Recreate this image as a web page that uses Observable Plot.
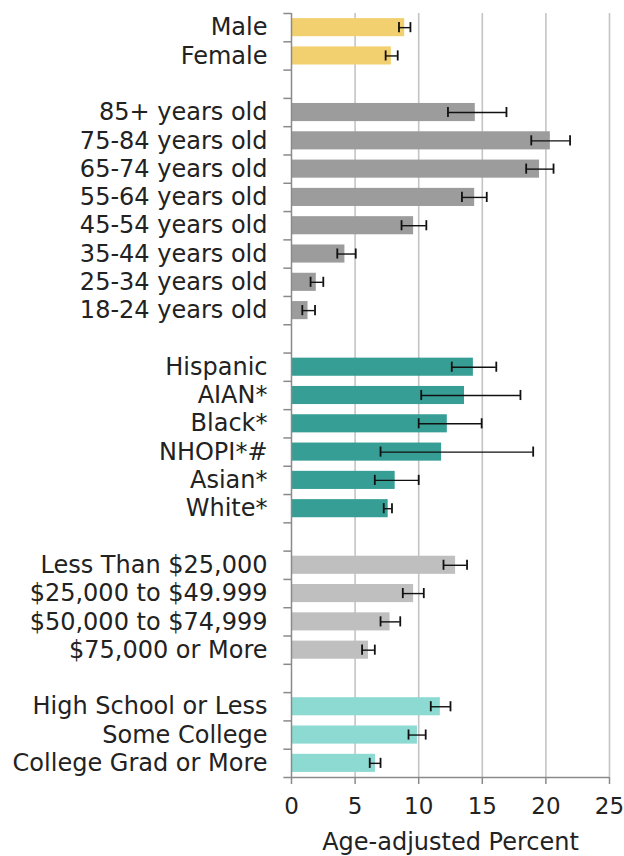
<!DOCTYPE html>
<html><head><meta charset="utf-8">
<script src="https://cdn.jsdelivr.net/npm/d3@7"></script>
<script src="https://cdn.jsdelivr.net/npm/@observablehq/plot@0.6"></script>
<style>body{margin:0;background:#fff}</style>
</head><body><div id="chart"></div>
<script>
// ---- data ----
const sexCats = ["Male", "Female"];
const sexVals = [8.9, 7.85];
const sexLo = [8.45, 7.4];
const sexHi = [9.35, 8.35];

const ageCats = ["85+ years old", "75-84 years old", "65-74 years old", "55-64 years old", "45-54 years old", "35-44 years old", "25-34 years old", "18-24 years old"];
const ageVals = [14.45, 20.35, 19.5, 14.4, 9.6, 4.2, 1.95, 1.3];
const ageLo = [12.3, 18.85, 18.45, 13.4, 8.65, 3.6, 1.5, 0.85];
const ageHi = [16.9, 21.9, 20.6, 15.35, 10.6, 5.05, 2.5, 1.85];

const raceCats = ["Hispanic", "AIAN*", "Black*", "NHOPI*#", "Asian*", "White*"];
const raceVals = [14.3, 13.6, 12.25, 11.8, 8.15, 7.6];
const raceLo = [12.6, 10.2, 10.0, 7.0, 6.55, 7.25];
const raceHi = [16.1, 18.0, 14.95, 19.0, 10.0, 7.9];

const incCats = ["Less Than $25,000", "$25,000 to $49.999", "$50,000 to $74,999", "$75,000 or More"];
const incVals = [12.9, 9.6, 7.75, 6.05];
const incLo = [11.95, 8.75, 7.0, 5.55];
const incHi = [13.8, 10.4, 8.55, 6.55];

const eduCats = ["High School or Less", "Some College", "College Grad or More"];
const eduVals = [11.7, 9.9, 6.6];
const eduLo = [10.95, 9.2, 6.15];
const eduHi = [12.5, 10.55, 7.0];

const xTicks = [0, 5, 10, 15, 20, 25];
const xLabel = "Age-adjusted Percent";

const groups = [
  {cats: sexCats, vals: sexVals, lo: sexLo, hi: sexHi, color: "#F3D06F"},
  {cats: ageCats, vals: ageVals, lo: ageLo, hi: ageHi, color: "#9C9C9C"},
  {cats: raceCats, vals: raceVals, lo: raceLo, hi: raceHi, color: "#369E95"},
  {cats: incCats, vals: incVals, lo: incLo, hi: incHi, color: "#BFBFBF"},
  {cats: eduCats, vals: eduVals, lo: eduLo, hi: eduHi, color: "#8CDAD2"}
];

const rows = [];
const domain = [];
groups.forEach((g, gi) => {
  if (gi > 0) domain.push("gap" + gi);
  g.cats.forEach((c, i) => {
    domain.push(c);
    rows.push({cat: c, value: g.vals[i], lo: g.lo[i], hi: g.hi[i], color: g.color});
  });
});

const width = 624, height = 856;
const marginTop = 13, marginBottom = 79, marginLeft = 291, marginRight = 15;
const step = (height - marginTop - marginBottom) / domain.length;
const font = "DejaVu Sans";

const chart = Plot.plot({
  width, height, marginTop, marginBottom, marginLeft, marginRight,
  style: {fontFamily: font, color: "#222", background: "#fff"},
  x: {domain: [0, 25]},
  y: {domain, paddingInner: 0.36, paddingOuter: 0.18, round: false},
  marks: [
    Plot.ruleX(xTicks.slice(1), {stroke: "#c4c4c4", strokeWidth: 1.6}),
    Plot.barX(rows, {y: "cat", x: "value", fill: "color"}),
    Plot.ruleY(rows, {y: "cat", x1: "lo", x2: "hi", stroke: "#111", strokeWidth: 1.4}),
    Plot.tickX(rows, {y: "cat", x: "lo", stroke: "#111", strokeWidth: 1.8, insetTop: 4, insetBottom: 4}),
    Plot.tickX(rows, {y: "cat", x: "hi", stroke: "#111", strokeWidth: 1.8, insetTop: 4, insetBottom: 4}),
    Plot.ruleX([0], {stroke: "#8a8a8a", strokeWidth: 1.5}),
    Plot.ruleY(domain, {y: d => d, x1: 0, x2: -0.6, dy: -step / 2, stroke: "#8a8a8a", strokeWidth: 1.5}),
    Plot.ruleY([domain[domain.length - 1]], {y: d => d, x1: -0.6, x2: 25, dy: step / 2, stroke: "#8a8a8a", strokeWidth: 1.5}),
    Plot.axisY({tickSize: 0, tickPadding: 24, fontSize: 24, tickFormat: d => d.startsWith("gap") ? "" : d, label: null}),
    Plot.axisX({ticks: xTicks, tickSize: 7, tickPadding: 13, fontSize: 23, stroke: "#8a8a8a", strokeWidth: 1.5, label: null}),
    Plot.text([xLabel], {text: d => d, frameAnchor: "bottom", dy: 72, fontSize: 24, fill: "#222"})
  ]
});
chart.querySelectorAll("text").forEach(t => t.setAttribute("fill", "#222"));
document.getElementById("chart").appendChild(chart);
</script>
</body></html>
